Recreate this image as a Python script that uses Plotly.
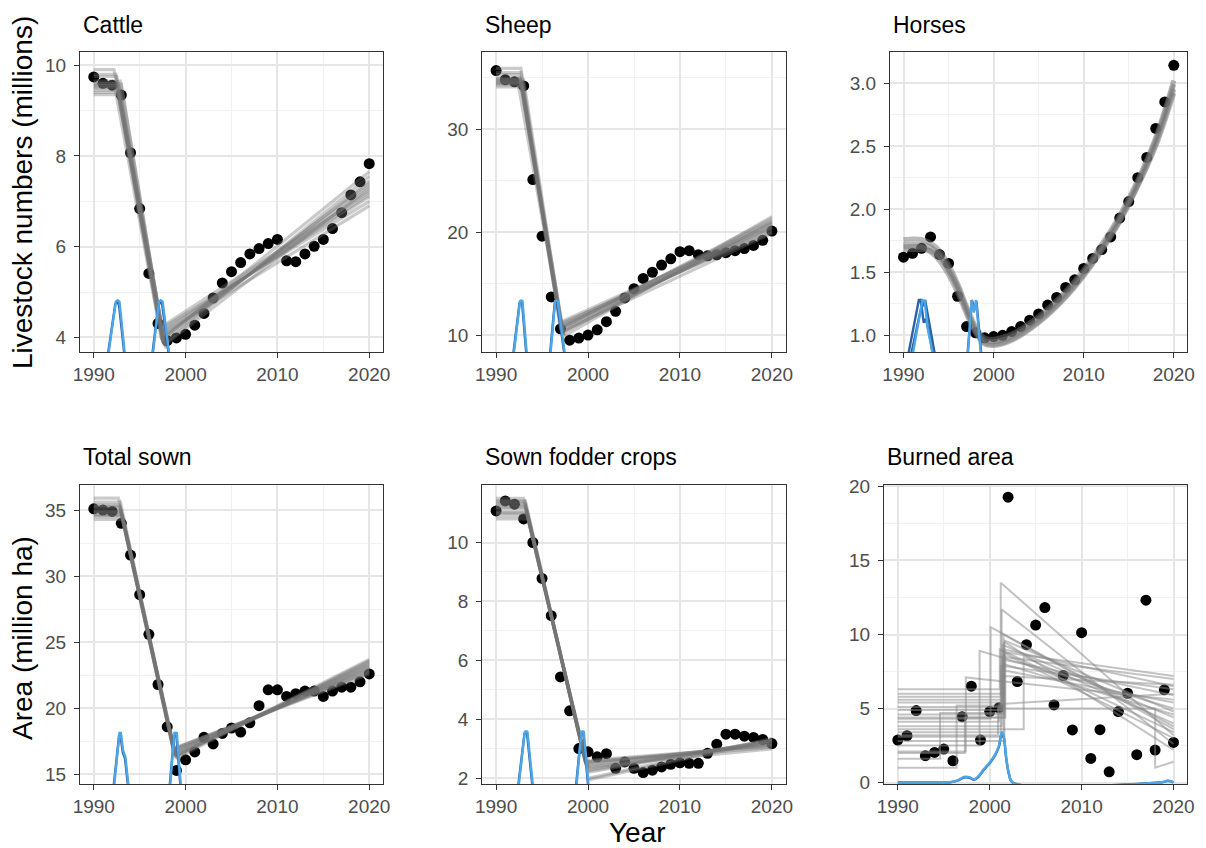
import plotly.graph_objects as go

years = list(range(1990, 2021))

cattle = [9.74, 9.60, 9.56, 9.34, 8.07, 6.84, 5.41, 4.31, 3.93, 3.99, 4.07, 4.27, 4.53, 4.87, 5.20,
          5.45, 5.65, 5.84, 5.96, 6.07, 6.16, 5.69, 5.67, 5.84, 6.01, 6.16, 6.40, 6.75, 7.14, 7.43, 7.83]
sheep = [35.7, 34.8, 34.6, 34.2, 25.1, 19.6, 13.7, 10.6, 9.5, 9.7, 10.0, 10.5, 11.3, 12.3, 13.6,
         14.5, 15.5, 16.1, 16.8, 17.4, 18.1, 18.2, 17.8, 17.7, 17.8, 18.0, 18.2, 18.4, 18.7, 19.2, 20.1]
horses = [1.62, 1.65, 1.69, 1.78, 1.64, 1.57, 1.31, 1.07, 1.02, 0.98, 0.99, 1.00, 1.03, 1.07, 1.12,
          1.17, 1.24, 1.30, 1.38, 1.44, 1.53, 1.61, 1.68, 1.78, 1.93, 2.06, 2.25, 2.41, 2.64, 2.85, 3.14]
total_sown = [35.1, 35.0, 34.9, 34.0, 31.6, 28.6, 25.6, 21.8, 18.6, 15.3, 16.1, 16.7, 17.8, 17.3, 18.1,
              18.5, 18.2, 18.9, 20.2, 21.4, 21.4, 20.9, 21.1, 21.3, 21.3, 20.9, 21.3, 21.6, 21.6, 22.0, 22.6]
fodder = [11.07, 11.41, 11.30, 10.80, 10.00, 8.78, 7.52, 5.44, 4.29, 3.01, 2.90, 2.73, 2.84, 2.34, 2.56,
          2.34, 2.20, 2.28, 2.39, 2.48, 2.53, 2.51, 2.51, 2.85, 3.16, 3.50, 3.50, 3.43, 3.39, 3.32, 3.18]
burned = [2.87, 3.16, 4.86, 1.81, 2.03, 2.26, 1.47, 4.45, 6.51, 2.87, 4.79, 5.05, 19.28, 6.82, 9.31,
          10.64, 11.82, 5.24, 7.23, 3.55, 10.12, 1.63, 3.57, 0.72, 4.79, 6.03, 1.88, 12.32, 2.19, 6.26, 2.71]

# ---------------- posterior draws of the change-point fits ----------------
# plateau -> linear decline -> new linear segment
cattle_cp1 = [1992.5, 1992.7, 1992.3, 1992.9, 1992.6, 1992.2, 1992.8, 1992.5, 1993.0, 1992.7, 1992.4, 1992.6]
cattle_lvl = [9.55, 9.60, 9.50, 9.65, 9.45, 9.90, 9.35, 9.75, 9.58, 9.52, 9.80, 9.40]
cattle_cp2 = [1997.6, 1997.8, 1997.4, 1997.7, 1997.4, 1997.9, 1997.6, 1997.5, 1997.7, 1997.8, 1997.5, 1997.6]
cattle_low = [3.85, 3.80, 3.95, 3.85, 3.95, 3.75, 3.88, 3.92, 3.82, 3.80, 3.90, 3.86]
cattle_s3 = [4.05, 3.95, 4.15, 4.00, 4.20, 3.90, 4.10, 4.25, 4.00, 3.85, 4.12, 4.02]
cattle_e3 = [7.25, 7.45, 7.10, 7.35, 7.00, 7.55, 6.90, 7.20, 7.65, 7.30, 7.15, 7.40]

sheep_cp1 = [1992.7, 1992.6, 1992.8, 1992.5, 1992.9, 1992.7, 1992.6, 1992.8, 1992.7, 1992.4, 1992.7, 1993.0]
sheep_lvl = [34.6, 34.9, 34.3, 35.3, 34.1, 34.7, 35.0, 34.5, 35.5, 34.4, 35.9, 34.8]
sheep_cp2 = [1997.2, 1997.1, 1997.3, 1997.2, 1997.0, 1997.4, 1997.2, 1997.1, 1997.3, 1997.2, 1997.1, 1997.3]
sheep_low = [10.2, 10.4, 10.0, 10.3, 10.6, 9.9, 10.2, 10.5, 10.1, 10.3, 10.4, 10.0]
sheep_s3 = [10.5, 10.9, 10.2, 11.2, 10.6, 9.9, 10.7, 11.0, 10.4, 10.8, 11.3, 10.3]
sheep_e3 = [20.6, 20.2, 21.0, 20.0, 21.3, 21.5, 20.4, 20.8, 19.9, 21.1, 20.5, 20.9]

sown_cp1 = [1992.9, 1993.0, 1992.8, 1993.1, 1992.9, 1993.0, 1992.7, 1993.2, 1992.9, 1993.0, 1992.8, 1993.1]
sown_lvl = [35.0, 34.7, 35.3, 34.5, 35.6, 34.9, 35.9, 34.3, 35.2, 34.8, 35.4, 34.6]
sown_cp2 = [1998.8, 1998.9, 1998.7, 1998.9, 1998.8, 1999.0, 1998.8, 1998.9, 1998.8, 1998.9, 1998.7, 1999.0]
sown_low = [16.5, 16.4, 16.7, 16.3, 16.6, 16.2, 16.5, 16.4, 16.6, 16.4, 16.8, 16.3]
sown_s3 = [16.6, 16.4, 16.9, 16.2, 17.0, 16.5, 16.7, 16.3, 16.8, 16.6, 16.9, 16.4]
sown_e3 = [23.1, 23.4, 22.8, 23.6, 22.6, 23.2, 23.0, 23.7, 22.9, 23.3, 22.7, 23.5]

fodder_cp1 = [1993.2, 1993.3, 1993.1, 1993.4, 1993.2, 1993.0, 1993.3, 1993.5, 1993.2, 1993.1, 1993.4, 1993.2]
fodder_lvl = [11.2, 11.0, 11.4, 10.9, 11.3, 11.5, 11.1, 10.8, 11.2, 11.3, 11.0, 11.4]
fodder_cp2 = [1999.8, 1999.9, 1999.7, 2000.0, 1999.8, 1999.7, 1999.9, 2000.0, 1999.8, 1999.8, 1999.9, 1999.7]
fodder_low = [2.45, 2.40, 2.55, 2.35, 2.50, 2.60, 2.40, 2.30, 2.45, 2.50, 2.38, 2.55]
fodder_s3 = [2.45, 2.20, 2.60, 2.00, 2.50, 2.55, 2.30, 1.95, 2.40, 2.35, 2.25, 2.55]
fodder_e3 = [3.20, 3.30, 3.10, 3.35, 3.15, 3.05, 3.25, 3.30, 3.00, 3.20, 3.28, 3.12]

# horses: smooth (plateau -> quadratic) fits, values at these years
horses_fit_years = [1990, 1992, 1993, 1994, 1995, 1996, 1997, 1998, 1999, 2000, 2002, 2005,
                    2008, 2010, 2012, 2014, 2016, 2018, 2020]
horses_fits = [
    [1.72, 1.72, 1.70, 1.64, 1.53, 1.39, 1.21, 1.05, 0.96, 0.95, 0.99, 1.13, 1.33, 1.50, 1.70, 1.93, 2.21, 2.55, 2.99],
    [1.76, 1.76, 1.73, 1.67, 1.56, 1.41, 1.23, 1.07, 0.98, 0.97, 1.01, 1.15, 1.35, 1.52, 1.72, 1.95, 2.23, 2.57, 3.02],
    [1.68, 1.68, 1.67, 1.62, 1.51, 1.37, 1.19, 1.03, 0.94, 0.93, 0.97, 1.11, 1.31, 1.48, 1.68, 1.91, 2.19, 2.52, 2.95],
    [1.70, 1.70, 1.66, 1.59, 1.48, 1.34, 1.17, 1.02, 0.93, 0.92, 0.96, 1.10, 1.30, 1.47, 1.67, 1.90, 2.18, 2.50, 2.92],
]

# burned area: plateau -> plateau -> linear segment
burn_lvl1 = [3.4, 3.8, 4.3, 2.5, 1.0, 1.6, 2.1, 4.9, 5.4, 4.6, 6.3, 3.1, 5.8, 2.8, 3.6, 4.1, 3.2, 5.1, 4.4, 2.0, 5.6, 6.0]
burn_cp1 = [2001.2, 2001.3, 2000.1, 1998.9, 1996.4, 1994.6, 1997.4, 2001.6, 2001.4, 2001.5, 2001.1, 2001.5,
            2001.2, 2001.6, 2003.7, 2001.0, 2000.9, 2001.3, 2001.7, 1997.3, 2001.4, 2001.5]
burn_lvl2 = [3.4, 3.8, 10.5, 8.9, 5.2, 4.7, 7.1, 4.9, 5.4, 4.6, 6.3, 3.1, 5.8, 2.8, 3.6, 4.1, 5.0, 5.1, 4.4, 4.4, 5.6, 6.0]
burn_cp2 = [2001.2, 2001.3, 2000.1, 1998.9, 2001.4, 2001.5, 1997.4, 2001.6, 2001.4, 2001.5, 2001.1, 2001.5,
            2001.2, 2001.6, 2003.7, 2001.0, 2018.0, 2001.3, 2001.7, 2001.6, 2001.4, 2001.5]
burn_s3 = [13.5, 11.7, 10.5, 8.9, 9.3, 9.0, 7.1, 8.8, 8.5, 8.3, 9.0, 8.0, 7.9, 9.5, 8.5, 5.3, 1.0, 7.6, 8.7, 9.6, 7.2, 10.0]
burn_e3 = [3.2, 2.6, 3.8, 5.0, 4.4, 6.5, 5.6, 7.2, 7.0, 5.9, 3.4, 4.6, 6.3, 2.2, 4.0, 6.0, 1.4, 5.4, 3.0, 4.8, 6.6, 3.6]

# ---------------- change-point posterior densities (two chains) ----------------
cattle_dl_x = [1991.5, 1992.4, 1992.6, 1992.8, 1993.45, None, 1996.35, 1997.1, 1997.3, 1997.5, 1998.3]
cattle_dl_y = [3.5, 4.79, 4.82, 4.79, 3.5, None, 3.5, 4.79, 4.82, 4.79, 3.5]
cattle_dd_x = [1991.45, 1992.35, 1992.55, 1992.75, 1993.4, None, 1996.3, 1997.05, 1997.25, 1997.45, 1998.25]
cattle_dd_y = [3.5, 4.74, 4.78, 4.72, 3.5, None, 3.5, 4.74, 4.78, 4.72, 3.5]

sheep_dl_x = [1991.9, 1992.6, 1992.72, 1992.87, 1993.35, None, 1995.9, 1996.42, 1996.55, 1996.7, 1997.5]
sheep_dl_y = [8.0, 13.3, 13.35, 13.3, 8.0, None, 8.0, 13.3, 13.35, 13.3, 8.0]
sheep_dd_x = [1991.85, 1992.55, 1992.68, 1992.83, 1993.3, None, 1995.85, 1996.38, 1996.5, 1996.65, 1997.45]
sheep_dd_y = [8.0, 13.1, 13.15, 13.1, 8.0, None, 8.0, 13.1, 13.15, 13.1, 8.0]

horses_dl_x = [1990.9, 1992.1, 1992.35, 1992.7, 1993.4, None, 1997.1, 1997.55, 1997.8, 1998.05, 1998.65]
horses_dl_y = [0.8, 1.28, 1.27, 1.05, 0.8, None, 0.8, 1.28, 1.18, 1.28, 0.8]
horses_dd_x = [1990.4, 1991.7, 1991.9, 1992.25, 1992.5, 1993.0, 1993.35, None,
               1990.7, 1991.6, 1991.9, 1992.4, 1993.1, 1993.6, None,
               1997.05, 1997.6, 1997.85, 1998.1, 1998.7]
horses_dd_y = [0.8, 1.28, 1.28, 1.10, 1.13, 0.96, 0.8, None,
               0.8, 1.10, 1.20, 1.28, 1.00, 0.8, None,
               0.8, 1.28, 1.20, 1.27, 0.8]

sown_dl_x = [1992.2, 1992.8, 1992.95, 1993.2, 1993.45, 1993.8, None, 1998.3, 1998.78, 1998.9, 1999.04, 1999.5]
sown_dl_y = [14.0, 18.13, 18.13, 16.8, 16.3, 14.0, None, 14.0, 18.13, 18.15, 18.13, 14.0]
sown_dd_x = [1992.15, 1992.75, 1992.9, 1993.15, 1993.4, 1993.75, None, 1998.25, 1998.74, 1998.86, 1999.0, 1999.45]
sown_dd_y = [14.0, 17.9, 17.95, 16.7, 16.2, 14.0, None, 14.0, 17.9, 17.95, 17.9, 14.0]

fodder_dl_x = [1992.4, 1993.12, 1993.27, 1993.41, 1994.05, None, 1998.7, 1999.28, 1999.4, 1999.54, 2000.1]
fodder_dl_y = [1.6, 3.58, 3.60, 3.58, 1.6, None, 1.6, 3.58, 3.60, 3.58, 1.6]
fodder_dd_x = [1992.35, 1993.08, 1993.22, 1993.37, 1994.0, None, 1998.65, 1999.24, 1999.36, 1999.5, 2000.05]
fodder_dd_y = [1.6, 3.5, 3.52, 3.5, 1.6, None, 1.6, 3.5, 3.52, 3.5, 1.6]

burn_dl_x = [1990, 1993.7, 1995.7, 1996.5, 1997.2, 1997.8, 1998.3, 1998.8, 1999.35, 2000.0, 2000.6,
             2001.0, 2001.3, 2001.5, 2001.8, 2002.1, 2002.5, 2018.5, 2018.9, 2019.3, 2019.7, 2020]
burn_dl_y = [0, 0, 0.02, 0.15, 0.38, 0.36, 0.2, 0.45, 0.9, 1.35, 1.9,
             2.5, 3.4, 3.2, 1.7, 0.6, 0, 0, 0.04, 0.12, 0.1, 0]
burn_dd_x = [1990, 1993.7, 1995.7, 1996.5, 1997.2, 1997.8, 1998.3, 1998.8, 1999.35, 2000.0, 2000.6,
             2001.0, 2001.3, 2001.5, 2001.8, 2002.1, 2002.5, 2018.5, 2018.9, 2019.3, 2019.7, 2020]
burn_dd_y = [0, 0, 0.02, 0.13, 0.33, 0.32, 0.18, 0.4, 0.85, 1.3, 1.85,
             2.4, 3.3, 3.1, 1.6, 0.55, 0, 0, 0.03, 0.1, 0.08, 0]

titles = ["Cattle", "Sheep", "Horses", "Total sown", "Sown fodder crops", "Burned area"]

# ---------------- layout geometry ----------------
# The page body keeps its default 8px margin, so the figure is drawn at an
# 8px offset; it is sized to fit the 1206x848 window exactly.
OFF = 8
W, H = 1206 - OFF, 848 - OFF


def px(xp):
    return (xp - OFF) / W


def py(yp):
    return 1 - (yp - OFF) / H


xdoms = [[px(80), px(383)], [px(482.3), px(785.7)], [px(890), px(1187.3)],
         [px(80), px(383)], [px(482.3), px(785.7)], [px(884), px(1187.3)]]
ydoms = [[py(352), py(52)]] * 3 + [[py(784), py(485)]] * 3
yranges = [[3.68, 10.29], [8.35, 37.5], [0.868, 3.246], [14.27, 36.9], [1.81, 11.95], [-0.1, 20.1]]
yticks = [dict(tick0=0, dtick=2, minor=1), dict(tick0=0, dtick=10, minor=5),
          dict(tick0=0, dtick=0.5, minor=0.25), dict(tick0=0, dtick=5, minor=2.5),
          dict(tick0=0, dtick=2, minor=1), dict(tick0=0, dtick=5, minor=2.5)]

GRAY = "rgba(115,115,115,0.38)"
LIGHT = "#4CA6E6"
DARK = "#2A63A8"

fig = go.Figure()


def axn(i):
    return ("x%d" % (i + 1) if i else "x", "y%d" % (i + 1) if i else "y")


def add_points(i, vals):
    xa, ya = axn(i)
    fig.add_trace(go.Scatter(x=years, y=vals, mode="markers", xaxis=xa, yaxis=ya,
                             marker=dict(color="black", size=11), hoverinfo="skip"))


def add_three_seg(i, cp1, lvl, cp2, low, s3, e3):
    xa, ya = axn(i)
    for k in range(len(cp1)):
        fig.add_trace(go.Scatter(
            x=[1990, cp1[k], cp2[k], None, cp2[k], 2020],
            y=[lvl[k], lvl[k], low[k], None, s3[k], e3[k]],
            mode="lines", xaxis=xa, yaxis=ya, connectgaps=False,
            line=dict(color=GRAY, width=3.2), hoverinfo="skip"))


def add_dens(i, dx, dy, lx, ly, shape="linear"):
    xa, ya = axn(i)
    fig.add_trace(go.Scatter(x=dx, y=dy, mode="lines", xaxis=xa, yaxis=ya,
                             line=dict(color=DARK, width=2.4, shape=shape), hoverinfo="skip"))
    fig.add_trace(go.Scatter(x=lx, y=ly, mode="lines", xaxis=xa, yaxis=ya,
                             line=dict(color=LIGHT, width=2.4, shape=shape), hoverinfo="skip"))


# Cattle
add_points(0, cattle)
add_three_seg(0, cattle_cp1, cattle_lvl, cattle_cp2, cattle_low, cattle_s3, cattle_e3)
add_dens(0, cattle_dd_x, cattle_dd_y, cattle_dl_x, cattle_dl_y)
# Sheep
add_points(1, sheep)
add_three_seg(1, sheep_cp1, sheep_lvl, sheep_cp2, sheep_low, sheep_s3, sheep_e3)
add_dens(1, sheep_dd_x, sheep_dd_y, sheep_dl_x, sheep_dl_y)
# Horses
add_points(2, horses)
for fit in horses_fits:
    fig.add_trace(go.Scatter(x=horses_fit_years, y=fit, mode="lines", xaxis="x3", yaxis="y3",
                             line=dict(color="rgba(115,115,115,0.5)", width=5, shape="spline"),
                             hoverinfo="skip"))
add_dens(2, horses_dd_x, horses_dd_y, horses_dl_x, horses_dl_y)
# Total sown
add_points(3, total_sown)
add_three_seg(3, sown_cp1, sown_lvl, sown_cp2, sown_low, sown_s3, sown_e3)
add_dens(3, sown_dd_x, sown_dd_y, sown_dl_x, sown_dl_y)
# Sown fodder crops
add_points(4, fodder)
add_three_seg(4, fodder_cp1, fodder_lvl, fodder_cp2, fodder_low, fodder_s3, fodder_e3)
add_dens(4, fodder_dd_x, fodder_dd_y, fodder_dl_x, fodder_dl_y)
# Burned area
add_points(5, burned)
for k in range(len(burn_lvl1)):
    fig.add_trace(go.Scatter(
        x=[1990, burn_cp1[k], burn_cp1[k], burn_cp2[k], burn_cp2[k], 2020],
        y=[burn_lvl1[k], burn_lvl1[k], burn_lvl2[k], burn_lvl2[k], burn_s3[k], burn_e3[k]],
        mode="lines", xaxis="x6", yaxis="y6",
        line=dict(color="rgba(135,135,135,0.5)", width=2), hoverinfo="skip"))
add_dens(5, burn_dd_x, burn_dd_y, burn_dl_x, burn_dl_y, shape="spline")

FONT = "Liberation Sans"
layout = dict(template="none", width=W, height=H, margin=dict(l=0, r=0, t=0, b=0, pad=0),
              showlegend=False, paper_bgcolor="white", plot_bgcolor="white",
              font=dict(family=FONT, color="#4D4D4D", size=19))

for i in range(6):
    sfx = str(i + 1) if i else ""
    layout["xaxis" + sfx] = dict(
        domain=xdoms[i], anchor="y" + sfx, range=[1988.5, 2021.5], automargin=False,
        tick0=1990, dtick=10, ticks="outside", ticklen=5, tickwidth=1.3, tickcolor="#333333",
        showline=True, linecolor="#333333", linewidth=1.3, mirror=True,
        showgrid=True, gridcolor="#E6E6E6", gridwidth=1.6, zeroline=False,
        minor=dict(dtick=5, tick0=1990, showgrid=True, gridcolor="#F1F1F1", gridwidth=1),
        tickfont=dict(family=FONT, size=19, color="#4D4D4D"))
    t = yticks[i]
    layout["yaxis" + sfx] = dict(
        domain=ydoms[i], anchor="x" + sfx, range=yranges[i], automargin=False,
        tick0=t["tick0"], dtick=t["dtick"], ticks="outside", ticklen=5, tickwidth=1.3,
        tickcolor="#333333", showline=True, linecolor="#333333", linewidth=1.3, mirror=True,
        showgrid=True, gridcolor="#E6E6E6", gridwidth=1.6, zeroline=False,
        minor=dict(dtick=t["minor"], tick0=0, showgrid=True, gridcolor="#F1F1F1", gridwidth=1),
        tickfont=dict(family=FONT, size=19, color="#4D4D4D"), ticklabelstandoff=4,
        tickformat=".1f" if i == 2 else None)

annotations = []
title_y = [py(25)] * 3 + [py(457)] * 3
for i in range(6):
    annotations.append(dict(text=titles[i], x=xdoms[i][0] + 1 / W, y=title_y[i], xref="paper",
                            yref="paper", xanchor="left", yanchor="middle", showarrow=False,
                            font=dict(family=FONT, size=23, color="black")))
annotations.append(dict(text="Livestock numbers (millions)", x=px(22), y=py(193), xref="paper",
                        yref="paper", textangle=-90, showarrow=False, xanchor="center",
                        yanchor="middle", font=dict(family=FONT, size=28, color="black")))
annotations.append(dict(text="Area (million ha)", x=px(22), y=py(638), xref="paper",
                        yref="paper", textangle=-90, showarrow=False, xanchor="center",
                        yanchor="middle", font=dict(family=FONT, size=28, color="black")))
annotations.append(dict(text="Year", x=px(637), y=py(832), xref="paper", yref="paper",
                        showarrow=False, xanchor="center", yanchor="middle",
                        font=dict(family=FONT, size=28, color="black")))
layout["annotations"] = annotations

fig.update_layout(**layout)
fig.write_html("out.html")
